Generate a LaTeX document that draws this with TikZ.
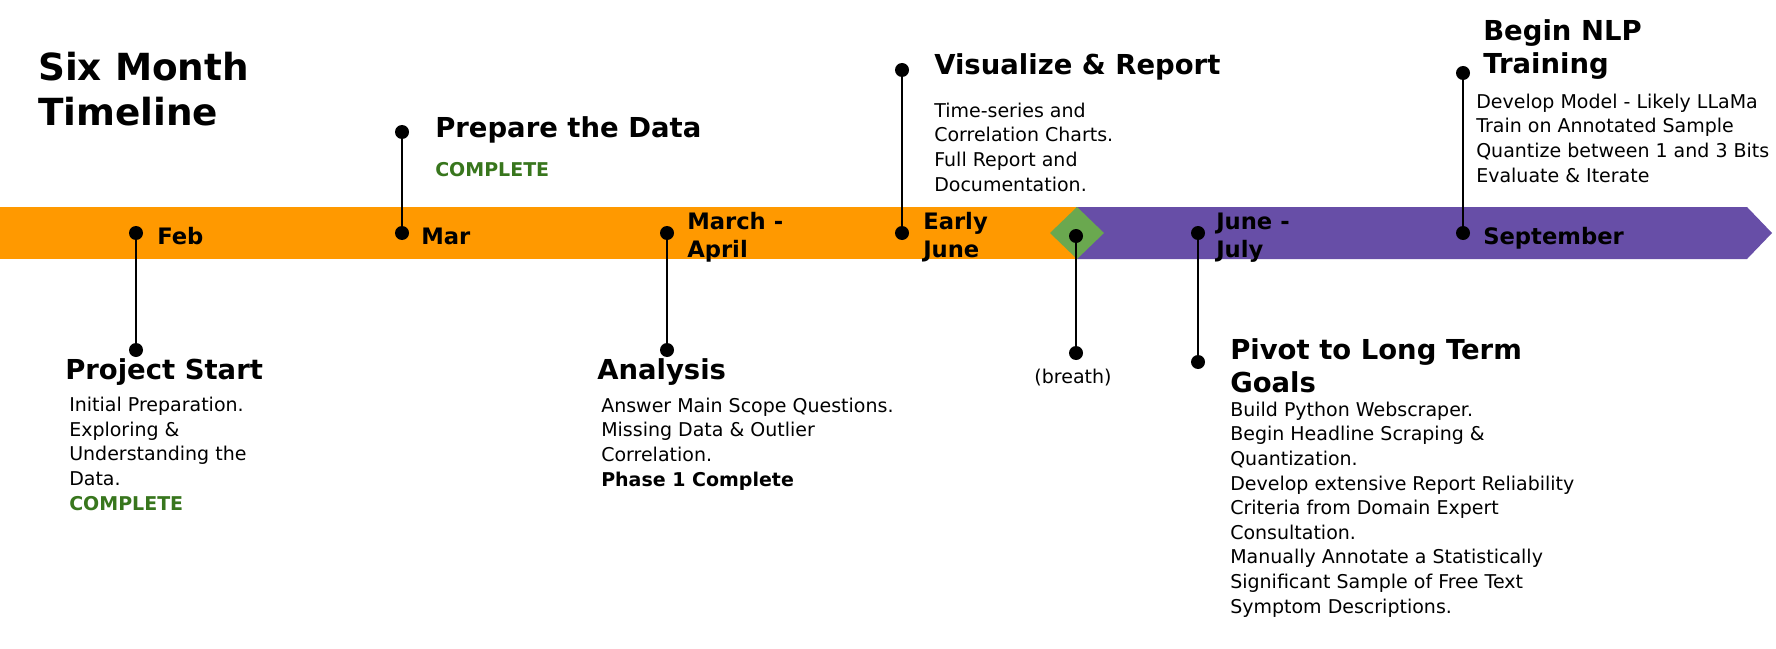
\documentclass[tikz,border=0pt]{standalone}
\usepackage{fontspec}
\setmainfont{DejaVu Sans}
\usetikzlibrary{positioning}

\definecolor{timeorange}{HTML}{FF9900}
\definecolor{timepurple}{HTML}{674EA7}
\definecolor{timegreen}{HTML}{6AA84F}
\definecolor{donegreen}{HTML}{38761D}

\def\dotsize{10.5pt}
\tikzstyle{dot} = [circle,
fill=black,
inner sep=0pt,
minimum size=\dotsize]
\tikzstyle{month} = [anchor=base west,
inner sep=0pt,
align=left,
font=\fontsize{17}{21}\selectfont\bfseries]
\tikzstyle{heading} = [anchor=base west,
inner sep=0pt,
align=left,
font=\fontsize{20.6}{24.75}\selectfont\bfseries]
\tikzstyle{body} = [anchor=base west,
inner sep=0pt,
align=left,
font=\fontsize{14.25}{18.45}\selectfont]
\tikzstyle{done} = [body, text=donegreen, font=\fontsize{14.25}{18.45}\selectfont\bfseries]

\begin{document}
\begin{tikzpicture}[x=0.75pt, y=-0.75pt]
    \useasboundingbox (0,0) rectangle (1776,649);
    %%%%%%%%%%%%%%%%%%%%%%%%%%%%%%%%%%%%%%%%
    % Bar
    %%%%%%%%%%%%%%%%%%%%%%%%%%%%%%%%%%%%%%%%
    \fill[timeorange] (0,207) rectangle (1076,259);
    \fill[timepurple] (1076,207) -- (1747,207) -- (1772,233) -- (1747,259) -- (1076,259) -- cycle;
    \fill[timegreen] (1050,233) -- (1077,207) -- (1104,233) -- (1077,259) -- cycle;
    % multi-line nodes sit on the baseline of their last line
    \node (title) [anchor=base west, inner sep=0pt, align=left,
        font=\fontsize{28}{33.75}\selectfont\bfseries] at (38,126) {Six Month\\Timeline};
    %%%%%%%%%%%%%%%%%%%%%%%%%%%%%%%%%%%%%%%%
    % Dots
    %%%%%%%%%%%%%%%%%%%%%%%%%%%%%%%%%%%%%%%%
    \node (feb) [dot] at (136,233) {};
    \node (feb2) [dot] at (136,350) {};
    \node (mar) [dot] at (402,233) {};
    \node (mar2) [dot] at (402,132) {};
    \node (apr) [dot] at (667,233) {};
    \node (apr2) [dot] at (667,350) {};
    \node (jun) [dot] at (902,233) {};
    \node (jun2) [dot] at (902,70) {};
    \node (rest) [dot] at (1076,236) {};
    \node (rest2) [dot] at (1076,353) {};
    \node (jul) [dot] at (1198,233) {};
    \node (jul2) [dot] at (1198,362) {};
    \node (sep) [dot] at (1463,233) {};
    \node (sep2) [dot] at (1463,73) {};
    %%%%%%%%%%%%%%%%%%%%%%%%%%%%%%%%%%%%%%%%
    % Months
    %%%%%%%%%%%%%%%%%%%%%%%%%%%%%%%%%%%%%%%%
    \node (feblbl) [month] at (157,244) {Feb};
    \node (marlbl) [month] at (421,244) {Mar};
    \node (aprlbl) [month] at (687,257) {March -\\April};
    \node (junlbl) [month] at (923,257) {Early\\June};
    \node (jullbl) [month] at (1216,257) {June -\\July};
    \node (seplbl) [month] at (1483,244) {September};
    %%%%%%%%%%%%%%%%%%%%%%%%%%%%%%%%%%%%%%%%
    % Goals
    %%%%%%%%%%%%%%%%%%%%%%%%%%%%%%%%%%%%%%%%
    \node (start) [heading] at (65,379) {Project Start};
    \node (starttxt) [body] at (69,510) {Initial Preparation.\\Exploring \&\\Understanding the\\Data.\\\textbf{\textcolor{donegreen}{COMPLETE}}};
    \node (prep) [heading] at (435,138) {Prepare the Data};
    \node (preptxt) [done] at (435,176) {COMPLETE};
    \node (analysis) [heading] at (597,379) {Analysis};
    \node (analysistxt) [body] at (601,486) {Answer Main Scope Questions.\\Missing Data \& Outlier\\Correlation.\\\textbf{Phase 1 Complete}};
    \node (report) [heading] at (934,75) {Visualize \& Report};
    \node (reporttxt) [body] at (934,191) {Time-series and\\Correlation Charts.\\Full Report and\\Documentation.};
    \node (breath) [body, anchor=base] at (1073,383) {(breath)};
    \node (pivot) [heading] at (1230,392) {Pivot to Long Term\\Goals};
    \node (pivottxt) [body] at (1230,613) {Build Python Webscraper.\\Begin Headline Scraping \&\\Quantization.\\Develop extensive Report Reliability\\Criteria from Domain Expert\\Consultation.\\Manually Annotate a Statistically\\Significant Sample of Free Text\\Symptom Descriptions.};
    \node (nlp) [heading] at (1483,74) {Begin NLP\\Training};
    \node (nlptxt) [body] at (1476,182) {Develop Model - Likely LLaMa\\Train on Annotated Sample\\Quantize between 1 and 3 Bits\\Evaluate \& Iterate};
    %%%%%%%%%%%%%%%%%%%%%%%%%%%%%%%%%%%%%%%%
    % Stems
    %%%%%%%%%%%%%%%%%%%%%%%%%%%%%%%%%%%%%%%%
    \draw[line width=1.4pt] (feb) -- (feb2);
    \draw[line width=1.4pt] (mar) -- (mar2);
    \draw[line width=1.4pt] (apr) -- (apr2);
    \draw[line width=1.4pt] (jun) -- (jun2);
    \draw[line width=1.4pt] (rest) -- (rest2);
    \draw[line width=1.4pt] (jul) -- (jul2);
    \draw[line width=1.4pt] (sep) -- (sep2);
\end{tikzpicture}
\end{document}
